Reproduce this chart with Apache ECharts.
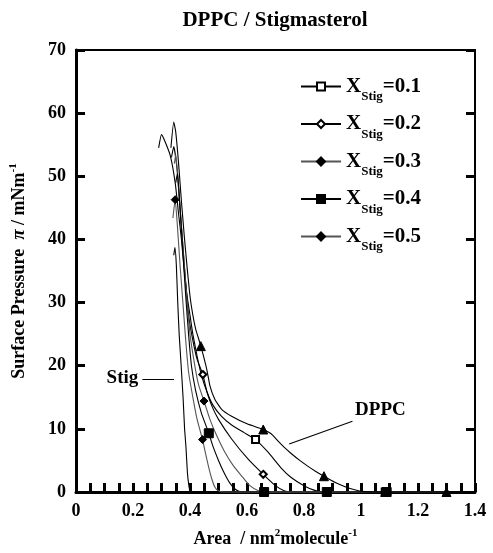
<!DOCTYPE html>
<html><head><meta charset="utf-8">
<script src="https://cdn.jsdelivr.net/npm/echarts@6/dist/echarts.min.js"></script>
<style>html,body{margin:0;padding:0;background:#fff}#c{width:493px;height:553px}</style>
</head><body><div id="c"></div>
<script>
const FONT = '"Liberation Serif", "Times New Roman", serif';

// ---- data (area nm^2/molecule, surface pressure mN/m) ----
const stig = [[0.343,37.5],[0.347,38.7],[0.352,36],[0.357,30],[0.362,25],[0.369,20],[0.376,14.7],[0.381,10],[0.386,7],[0.391,3],[0.396,1],[0.40,0]];
const x01 = [[0.29,54.5],[0.30,56.6],[0.33,53.4],[0.348,49],[0.36,44],[0.37,40],[0.38,35],[0.39,31],[0.40,28],[0.41,25],[0.425,21.5],[0.44,18.5],[0.46,15.8],[0.48,13.8],[0.51,12],[0.546,10.6],[0.59,9.4],[0.63,8.3],[0.674,6.3],[0.72,3.8],[0.755,2.3],[0.80,1.0],[0.835,0.3],[0.87,0],[1.085,0]];
const x02 = [[0.335,53],[0.343,54.7],[0.355,51],[0.365,45],[0.375,39],[0.385,33],[0.395,28],[0.41,24],[0.425,21],[0.445,18.6],[0.46,15.8],[0.477,13.6],[0.50,11.5],[0.546,8.4],[0.604,5.2],[0.657,2.8],[0.70,1.0],[0.73,0.2],[0.76,0],[0.87,0]];
const x03 = [[0.345,52],[0.35,53.5],[0.36,48],[0.37,42],[0.38,36],[0.39,30],[0.40,25],[0.415,20.5],[0.43,17],[0.449,14.4],[0.47,11.5],[0.49,9.3],[0.52,6.5],[0.55,4.3],[0.58,2.6],[0.61,1.0],[0.64,0.2],[0.66,0],[0.88,0]];
const x04 = [[0.35,49],[0.356,50.5],[0.365,45],[0.375,38],[0.385,31],[0.395,25],[0.405,20],[0.42,16],[0.44,12.5],[0.466,9.3],[0.48,7.3],[0.50,5.0],[0.52,3.0],[0.54,1.4],[0.56,0.4],[0.58,0],[0.66,0],[0.88,0],[1.09,0]];
const x05 = [[0.34,43.4],[0.348,46.3],[0.356,42],[0.365,36],[0.375,30],[0.385,24],[0.395,19],[0.41,15],[0.425,11.5],[0.444,8.3],[0.455,6],[0.465,4],[0.475,2.3],[0.487,0.8],[0.50,0.2],[0.52,0],[0.66,0],[0.88,0],[1.30,0]];
const dppc = [[0.333,54.5],[0.343,58.6],[0.350,57],[0.36,52],[0.37,46],[0.38,40.5],[0.39,35.5],[0.40,31],[0.41,28],[0.42,25.8],[0.438,23.1],[0.459,19.4],[0.47,16.8],[0.487,14.7],[0.511,13.1],[0.546,12.0],[0.60,10.8],[0.657,9.9],[0.675,9.5],[0.69,9.0],[0.71,8.0],[0.73,7.1],[0.755,6.1],[0.785,5.0],[0.813,4.1],[0.84,3.3],[0.87,2.5],[0.91,1.5],[0.94,0.9],[0.965,0.5],[1.0,0.1],[1.085,0],[1.30,0]];

// x positions that carry a marker
const x01Marks = [0.63, 1.085];
const x02Marks = [0.445, 0.657];
const x03Marks = [0.449, 0.66, 0.88];
const x04Marks = [0.466, 0.66, 0.88, 1.09];
const x05Marks = [0.348, 0.444, 0.66, 0.88];
const dppcMarks = [0.438, 0.657, 0.87, 1.085, 1.30];

const fractions = ['0.1','0.2','0.3','0.4','0.5'];
const xTicks = [0, 0.2, 0.4, 0.6, 0.8, 1, 1.2, 1.4];
const yTicks = [0, 10, 20, 30, 40, 50, 60, 70];

const annotations = [
  {text: 'Stig', at: [0.163, 18.0], line: [[0.233, 17.9], [0.344, 17.9]]},
  {text: 'DPPC', at: [1.068, 13.0], line: [[0.970, 11.2], [0.748, 7.6]]}
];

function build(arr, marks) {
  return arr.map(p => marks.indexOf(p[0]) >= 0 ? {value: p} : {value: p, symbol: 'none'});
}

const chart = echarts.init(document.getElementById('c'), null, {renderer: 'canvas'});

function curve(name, arr, marks, symbol, size, color) {
  return {
    type: 'line', name: name, data: build(arr, marks), symbol: symbol, symbolSize: size,
    showSymbol: true, smooth: 0.15, clip: false, z: 3,
    lineStyle: {color: color, width: 1.1},
    itemStyle: {color: '#000', borderColor: '#000', borderWidth: 1},
    emphasis: {disabled: true}, animation: false
  };
}

const series = [
  Object.assign(curve('Stig', stig, [], 'none', 0, '#000'), {
    markLine: {silent: true, symbol: 'none', animation: false, label: {show: false},
      lineStyle: {color: '#000', width: 1.1, type: 'solid'},
      data: annotations.map(a => [{coord: a.line[0]}, {coord: a.line[1]}])},
    markPoint: {silent: true, animation: false, symbol: 'circle', symbolSize: 0,
      label: {show: true, position: 'inside', formatter: p => p.name, color: '#000',
        fontFamily: FONT, fontWeight: 'bold', fontSize: 19},
      data: annotations.map(a => ({name: a.text, coord: a.at}))}
  }),
  curve('0.1', x01, x01Marks, 'emptyRect', 7, '#000'),
  curve('0.2', x02, x02Marks, 'emptyDiamond', 7, '#000'),
  curve('0.3', x03, x03Marks, 'diamond', 8, '#555'),
  curve('0.4', x04, x04Marks, 'rect', 9, '#000'),
  curve('0.5', x05, x05Marks, 'diamond', 8, '#555'),
  curve('DPPC', dppc, dppcMarks, 'triangle', 9, '#000')
];

const labelStyle = {color: '#000', fontFamily: FONT, fontWeight: 'bold', fontSize: 18};

chart.setOption({
  animation: false,
  backgroundColor: '#fff',
  title: {text: 'DPPC / Stigmasterol', left: 270, textAlign: 'center', top: 5,
    textStyle: {color: '#000', fontFamily: FONT, fontWeight: 'bold', fontSize: 21}},
  grid: {left: 73, right: 18, top: 50, bottom: 59, show: true, borderColor: '#000', borderWidth: 2, backgroundColor: 'transparent'},
  legend: {
    data: fractions, orient: 'vertical', left: 295, top: 71, itemWidth: 40, itemHeight: 10, itemGap: 10,
    selectedMode: false,
    formatter: n => '{x|X}{s|Stig}{v|=' + n + '}',
    textStyle: {color: '#000', fontFamily: FONT, fontWeight: 'bold',
      rich: {
        x: {fontFamily: FONT, fontWeight: 'bold', fontSize: 21, lineHeight: 34, color: '#000'},
        v: {fontFamily: FONT, fontWeight: 'bold', fontSize: 21, lineHeight: 34, color: '#000'},
        s: {fontFamily: FONT, fontWeight: 'bold', fontSize: 13, lineHeight: 13, verticalAlign: 'bottom', color: '#000'}
      }}
  },
  xAxis: {
    type: 'value', min: 0, max: 1.4, interval: 0.2,
    name: '{t|Area  / nm}{sup|2}{t|molecule}{sup|-1}', nameLocation: 'middle', nameGap: 36,
    nameTextStyle: {rich: {
      t: {fontFamily: FONT, fontWeight: 'bold', fontSize: 18, color: '#000', lineHeight: 22},
      sup: {fontFamily: FONT, fontWeight: 'bold', fontSize: 11, color: '#000', verticalAlign: 'top', lineHeight: 11}
    }},
    axisLine: {show: true, onZero: false, lineStyle: {color: '#000', width: 3}},
    axisTick: {show: true, inside: true, length: 9, lineStyle: {color: '#000', width: 3}},
    minorTick: {show: true, splitNumber: 4, length: 9, lineStyle: {color: '#000', width: 3}},
    splitLine: {show: false}, minorSplitLine: {show: false},
    axisLabel: Object.assign({margin: 10, formatter: v => xTicks.indexOf(+v.toFixed(2)) >= 0 ? String(+v.toFixed(2)) : ''}, labelStyle)
  },
  yAxis: [{
    type: 'value', min: 0, max: 70, interval: 10,
    name: '{t|Surface Pressure  }{p|π}{t| / mNm}{sup|-1}', nameLocation: 'middle', nameGap: 46, nameRotate: 90,
    nameTextStyle: {rich: {
      t: {fontFamily: FONT, fontWeight: 'bold', fontSize: 18, color: '#000', lineHeight: 22},
      p: {fontFamily: FONT, fontStyle: 'italic', fontWeight: 'bold', fontSize: 19, color: '#000', lineHeight: 22},
      sup: {fontFamily: FONT, fontWeight: 'bold', fontSize: 11, color: '#000', verticalAlign: 'top', lineHeight: 11}
    }},
    axisLine: {show: true, onZero: false, lineStyle: {color: '#000', width: 3}},
    axisTick: {show: true, inside: true, length: 9, lineStyle: {color: '#000', width: 3}},
    splitLine: {show: false},
    axisLabel: Object.assign({margin: 10, formatter: v => yTicks.indexOf(v) >= 0 ? String(v) : ''}, labelStyle)
  }, {
    type: 'value', min: 0, max: 70, interval: 10, position: 'right',
    axisLine: {show: true, onZero: false, lineStyle: {color: '#000', width: 2}},
    axisTick: {show: true, inside: true, length: 9, lineStyle: {color: '#000', width: 3}},
    axisLabel: {show: false}, splitLine: {show: false}
  }],
  series: series
});
</script></body></html>
